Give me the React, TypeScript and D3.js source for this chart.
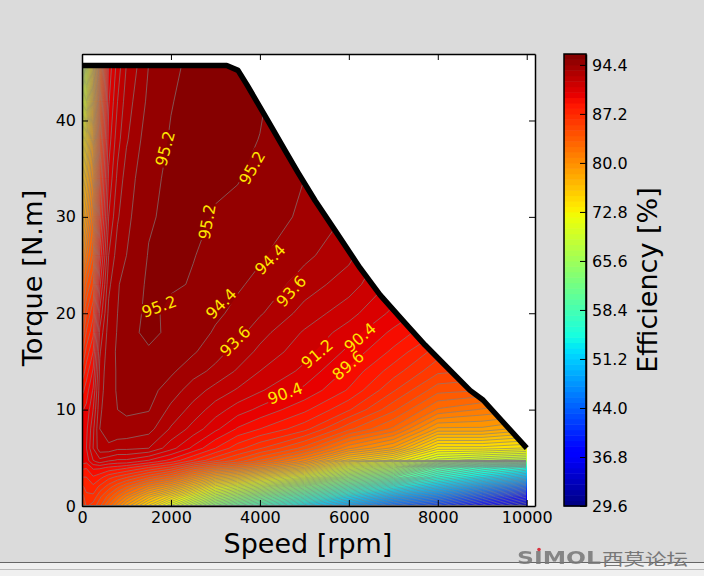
import React, { useEffect, useRef } from 'react';
import * as d3 from 'd3';

// Grid of the efficiency map
const speeds = [0, 100, 250, 400, 600, 800, 1000, 1500, 2000, 2500, 3000, 3500, 4000, 5000, 6000, 7000, 8000, 9000, 10000];
const torques = [0, 1, 2, 3, 4, 4.6, 4.75, 6, 8, 10, 12, 14, 16, 18, 20, 23, 26, 30, 34, 38, 42, 46];

// one list per speed, one value per torque
const etaBySpeed = [
  [85, 86, 87, 88, 89, 90, 90.1, 90.2, 90, 89.5, 88.5, 87.3, 86.2, 85, 84, 82.5, 80, 77.5, 75, 72, 69, 65],
  [86.5, 87, 87.5, 88, 88.9, 89.8, 90, 90.4, 90.2, 89.8, 89.2, 88.4, 87.5, 86.5, 85.6, 84, 82, 79.5, 77.5, 75, 72, 70],
  [86, 87, 87.8, 88.7, 89.8, 91, 91.2, 92, 91.8, 91.2, 90.5, 89.7, 88.8, 87.8, 87, 85.5, 84, 82.5, 81, 79.5, 78, 76],
  [85, 85.8, 87, 88.3, 89.8, 91.5, 91.8, 93.3, 93.6, 93.4, 93.2, 93, 92.7, 92.2, 91.4, 90.2, 89, 87.5, 86.5, 85.5, 84.5, 83.5],
  [83, 84.5, 86, 87.5, 89.5, 91, 91.4, 93.4, 94.1, 94.3, 94.2, 94.2, 94.1, 94, 93.8, 93.4, 92.8, 92, 91.4, 90.8, 90.3, 89.8],
  [81, 83, 85, 87, 89.3, 90.8, 91.1, 93, 94.3, 94.4, 94.45, 94.45, 94.5, 94.45, 94.4, 94.35, 94, 93.5, 93, 92.5, 92, 91.5],
  [79, 81.5, 84, 86.5, 89, 90.8, 91.1, 93, 94.2, 94.5, 94.6, 94.7, 94.75, 94.8, 94.75, 94.6, 94.4, 94.2, 94, 93.5, 93.2, 92.8],
  [75, 78, 81.5, 85, 88, 90, 90.4, 92.8, 93.9, 94.45, 94.7, 94.9, 95.05, 95.5, 95.41, 95.35, 95.25, 95.1, 95, 94.9, 94.6, 94.4],
  [71, 75, 79.5, 83.5, 87, 89, 89.4, 91.5, 92.7, 93.4, 94, 94.55, 94.75, 94.95, 95, 95.3, 95.4, 95.4, 95.35, 95.25, 95.17, 95.1],
  [67, 71.5, 76.5, 81, 85, 87.5, 88, 90.2, 91.7, 92.5, 93.2, 93.9, 94.5, 94.8, 95, 95.15, 95.22, 95.35, 95.45, 95.45, 95.4, 95.3],
  [63, 68, 73, 78.5, 83.5, 86, 86.6, 88.8, 90.6, 91.6, 92.5, 93.4, 93.9, 94.3, 94.55, 94.85, 95.05, 95.15, 95.3, 95.45, 95.45, 95.4],
  [60, 65.5, 71, 77, 82.5, 85, 85.4, 87.5, 89.5, 90.8, 91.9, 92.7, 93.3, 93.9, 94.2, 94.5, 94.9, 95.1, 95.22, 95.4, 95.45, 95.45],
  [57.5, 63, 69, 75, 81, 83.5, 84, 86.5, 88.8, 90.2, 91.3, 92, 92.6, 93.1, 93.7, 94.2, 94.5, 94.95, 95.1, 95.18, 95.3, 95.4],
  [52, 58, 64, 71, 77.5, 80.5, 81, 84.5, 87.5, 89, 90.2, 91, 91.5, 91.9, 92.5, 93.2, 93.8, 94.2, 94.4, 94.5, 94.5, 94.5],
  [48, 53, 59, 65, 71, 75, 76.5, 81, 85, 87.3, 88.7, 89.4, 90.2, 90.8, 91.5, 92.4, 93, 93.5, 93.8, 94, 94, 94],
  [44, 49, 54.5, 61, 67, 71, 74, 79, 83, 85, 86.5, 87.6, 88.6, 89.4, 90.2, 91, 91.5, 92, 92, 92, 92, 92],
  [41, 46, 51, 56, 60, 66, 70, 74, 79, 82.3, 84.3, 85.8, 86.8, 88, 89, 89.6, 90, 90.5, 90.5, 90.5, 90.5, 90.5],
  [37, 42, 47.5, 53, 57, 63.5, 69, 74, 79, 81.5, 84, 85.5, 86.5, 87.5, 88.5, 89, 89.5, 90, 90, 90, 90, 90],
  [33, 38, 44, 50, 55, 63, 68, 73.5, 78, 81, 83, 85, 86, 87, 88, 88.5, 89, 89.5, 89.5, 89.5, 89.5, 89.5],
];

// Torque-speed envelope (thick black line)
const limitSpeed = [0, 3254, 3508, 3710, 4228, 4565, 4857, 5240, 5689, 6251, 6701, 7241, 7713, 8163, 8725, 9017, 10000];
const limitTorque = [45.7, 45.7, 45.2, 43.7, 39.6, 36.9, 34.6, 31.7, 28.6, 24.7, 21.9, 19.1, 16.7, 14.6, 12.0, 11.0, 6.0];

// Inline contour labels
const labelText = ['95.2', '95.2', '95.2', '94.4', '93.6', '95.2', '94.4', '93.6', '91.2', '90.4', '89.6', '90.4'];
const labelSpeed = [1866, 3823, 2811, 4228, 4700, 1731, 3126, 3440, 5285, 6251, 5980, 4565];
const labelTorque = [37.1, 35.1, 29.5, 25.6, 22.3, 20.7, 21.0, 17.1, 15.8, 17.5, 14.6, 11.7];
const labelAngle = [-75, -60, -80, -45, -48, -20, -45, -45, -40, -40, -40, -20];

const xTicks = [0, 2000, 4000, 6000, 8000, 10000];
const yTicks = [0, 10, 20, 30, 40];
const cbTicks = [29.6, 36.8, 44.0, 51.2, 58.4, 65.6, 72.8, 80.0, 87.2, 94.4];

const levelMin = 29.6;
const levelMax = 96;
const levelStep = 0.8;

const font = '"DejaVu Sans", sans-serif';
const bg = '#dbdbdb';

// matplotlib's jet
const jetR = d3.scaleLinear<number>().domain([0, 0.35, 0.66, 0.89, 1]).range([0, 0, 1, 1, 0.5]).clamp(true);
const jetG = d3.scaleLinear<number>().domain([0, 0.125, 0.375, 0.64, 0.91, 1]).range([0, 0, 1, 1, 0, 0]).clamp(true);
const jetB = d3.scaleLinear<number>().domain([0, 0.11, 0.34, 0.65, 1]).range([0.5, 1, 1, 0, 0]).clamp(true);
const jet = (t: number) =>
  d3.rgb(jetR(t) * 255, jetG(t) * 255, jetB(t) * 255).formatHex();

const App = () => {
  const svgRef = useRef<SVGSVGElement | null>(null);

  useEffect(() => {
    const svg = d3.select(svgRef.current);
    svg.selectAll('*').remove();

    const left = 82, right = 535, top = 54, bottom = 506;
    const x = d3.scaleLinear().domain([0, 10186]).range([left, right]);
    const y = d3.scaleLinear().domain([0, 46.9]).range([bottom, top]);

    svg.append('rect').attr('width', 704).attr('height', 576).attr('fill', bg);

    // bottom strip of the forum page
    svg.append('rect').attr('y', 563).attr('width', 704).attr('height', 13).attr('fill', '#f0f0f0');
    svg.append('line').attr('x1', 0).attr('x2', 704).attr('y1', 562.5).attr('y2', 562.5).attr('stroke', '#666');
    svg.append('line').attr('x1', 0).attr('x2', 704).attr('y1', 569.5).attr('y2', 569.5).attr('stroke', '#bbb');

    svg.append('rect').attr('x', left).attr('y', top).attr('width', right - left).attr('height', bottom - top).attr('fill', '#fff');

    const defs = svg.append('defs');

    // the map only exists under the torque limit
    const limit = limitSpeed.map((s, i) => [s, limitTorque[i]]);
    const area = d3.area<number[]>().x(d => x(d[0])).y0(y(0)).y1(d => y(d[1]));
    defs.append('clipPath').attr('id', 'under-limit').append('path').attr('d', area(limit));

    // Contour bands
    const n = speeds.length;
    const m = torques.length;
    const values: number[] = [];
    for (let j = 0; j < m; j++) {
      for (let i = 0; i < n; i++) values.push(etaBySpeed[i][j]);
    }
    const levels = d3.range(Math.round((levelMax - levelMin) / levelStep)).map(i => levelMin + i * levelStep);
    const contours = d3.contours().size([n, m]).smooth(true).thresholds(levels)(values);

    const speedAt = d3.scaleLinear().domain(d3.range(n)).range(speeds).clamp(true);
    const torqueAt = d3.scaleLinear().domain(d3.range(m)).range(torques).clamp(true);
    const project = d3.geoTransform({
      point(px: number, py: number) {
        (this as any).stream.point(x(speedAt(px - 0.5)), y(torqueAt(py - 0.5)));
      },
    });
    const path = d3.geoPath(project);
    const norm = (v: number) => (v + levelStep / 2 - levelMin) / (levelMax - levelMin);

    const map = svg.append('g').attr('clip-path', 'url(#under-limit)');
    map.selectAll('path.band')
      .data(contours)
      .enter()
      .append('path')
      .attr('class', 'band')
      .attr('d', path as any)
      .attr('fill', d => jet(norm(d.value)));

    // contour lines are broken under the labels and stop short of the right edge
    const mask = defs.append('mask').attr('id', 'label-gaps').attr('maskUnits', 'userSpaceOnUse')
      .attr('x', 0).attr('y', 0).attr('width', 704).attr('height', 576);
    mask.append('rect').attr('width', 704).attr('height', 576).attr('fill', '#fff');
    mask.append('rect').attr('x', x(9985)).attr('y', top).attr('width', 20).attr('height', bottom - top).attr('fill', '#000');
    labelText.forEach((_, i) => {
      mask.append('rect')
        .attr('x', -19).attr('y', -8).attr('width', 38).attr('height', 16)
        .attr('transform', `translate(${x(labelSpeed[i])},${y(labelTorque[i])}) rotate(${labelAngle[i]})`)
        .attr('fill', '#000');
    });

    map.append('g').attr('mask', 'url(#label-gaps)')
      .selectAll('path.line')
      .data(contours.slice(1))
      .enter()
      .append('path')
      .attr('class', 'line')
      .attr('d', path as any)
      .attr('fill', 'none')
      .attr('stroke', '#808080')
      .attr('stroke-width', 0.65);

    // Contour labels
    labelText.forEach((t, i) => {
      svg.append('text')
        .attr('transform', `translate(${x(labelSpeed[i])},${y(labelTorque[i])}) rotate(${labelAngle[i]})`)
        .attr('text-anchor', 'middle')
        .attr('dy', '0.36em')
        .attr('font-family', font)
        .attr('font-size', 16)
        .attr('fill', '#ffe600')
        .text(t);
    });

    // Torque limit
    const limitLine = d3.line<number[]>().x(d => x(d[0])).y(d => y(d[1]));
    svg.append('path')
      .attr('d', limitLine(limit))
      .attr('fill', 'none')
      .attr('stroke', '#000')
      .attr('stroke-width', 5.5)
      .attr('stroke-linejoin', 'round');

    // Axes: old matplotlib style, ticks inside on all four sides
    const styleAxis = (g: any) => {
      g.selectAll('.domain').attr('stroke', '#000').attr('stroke-width', 1.5);
      g.selectAll('.tick line').attr('stroke', '#000');
      g.selectAll('text').attr('font-family', font).attr('font-size', 16).attr('fill', '#000');
    };
    svg.append('g').attr('transform', `translate(0,${bottom})`)
      .call(d3.axisBottom(x).tickValues(xTicks).tickSizeInner(-6).tickSizeOuter(0).tickPadding(6).tickFormat(d3.format('d') as any))
      .call(styleAxis);
    svg.append('g').attr('transform', `translate(0,${top})`)
      .call(d3.axisTop(x).tickValues(xTicks).tickSizeInner(-6).tickSizeOuter(0).tickFormat(() => ''))
      .call(styleAxis);
    svg.append('g').attr('transform', `translate(${left},0)`)
      .call(d3.axisLeft(y).tickValues(yTicks).tickSizeInner(-6).tickSizeOuter(0).tickPadding(6))
      .call(styleAxis);
    svg.append('g').attr('transform', `translate(${right},0)`)
      .call(d3.axisRight(y).tickValues(yTicks).tickSizeInner(-6).tickSizeOuter(0).tickFormat(() => ''))
      .call(styleAxis);

    svg.append('text')
      .attr('x', (left + right) / 2 - 0.5)
      .attr('y', 553)
      .attr('text-anchor', 'middle')
      .attr('font-family', font)
      .attr('font-size', 27)
      .text('Speed [rpm]');
    svg.append('text')
      .attr('transform', `translate(42,${(top + bottom) / 2 - 2}) rotate(-90)`)
      .attr('text-anchor', 'middle')
      .attr('font-family', font)
      .attr('font-size', 27.3)
      .text('Torque [N.m]');

    // Colorbar
    const cbLeft = 564, cbRight = 586;
    const cb = d3.scaleLinear().domain([levelMin, levelMax]).range([bottom, top]);
    svg.append('g').selectAll('rect')
      .data(levels)
      .enter()
      .append('rect')
      .attr('x', cbLeft)
      .attr('width', cbRight - cbLeft)
      .attr('y', d => cb(d + levelStep))
      .attr('height', d => cb(d) - cb(d + levelStep) + 0.5)
      .attr('fill', d => jet(norm(d)));
    svg.append('g').attr('transform', `translate(${cbRight},0)`)
      .call(d3.axisRight(cb).tickValues(cbTicks).tickSizeInner(-6).tickSizeOuter(0).tickPadding(6).tickFormat(d3.format('.1f') as any))
      .call(styleAxis);
    svg.append('rect')
      .attr('x', cbLeft).attr('y', top).attr('width', cbRight - cbLeft).attr('height', bottom - top)
      .attr('fill', 'none').attr('stroke', '#000').attr('stroke-width', 1.5);
    svg.append('text')
      .attr('transform', `translate(657,${(top + bottom) / 2}) rotate(-90)`)
      .attr('text-anchor', 'middle')
      .attr('font-family', font)
      .attr('font-size', 27)
      .text('Efficiency [%]');

    // Forum watermark
    svg.append('text')
      .attr('x', 517).attr('y', 564)
      .attr('textLength', 84).attr('lengthAdjust', 'spacingAndGlyphs')
      .attr('font-family', font).attr('font-size', 18).attr('font-weight', 'bold')
      .attr('fill', '#777').attr('opacity', 0.85)
      .text('SIMOL');
    svg.append('circle').attr('cx', 539).attr('cy', 549.5).attr('r', 1.8).attr('fill', '#d9333f');
    svg.append('text')
      .attr('x', 602).attr('y', 565)
      .attr('textLength', 86).attr('lengthAdjust', 'spacingAndGlyphs')
      .attr('font-family', '"Noto Sans CJK SC", sans-serif').attr('font-size', 16)
      .attr('fill', '#777')
      .text('西莫论坛');
  }, []);

  return (
    <svg
      ref={svgRef}
      width={704}
      height={576}
      style={{ position: 'fixed', left: 0, top: 0, display: 'block' }}
    />
  );
};

export default App;
